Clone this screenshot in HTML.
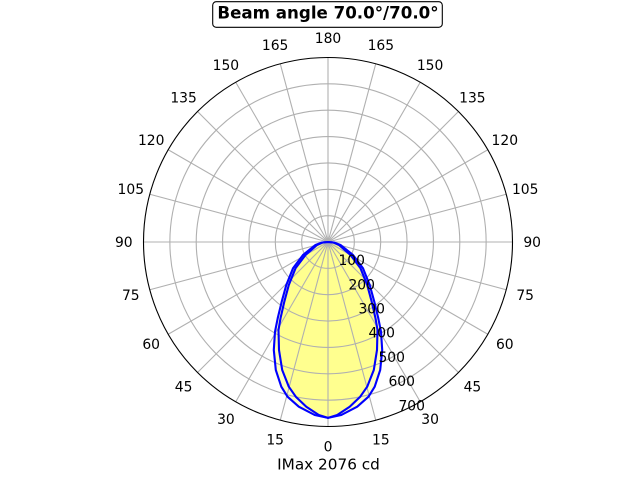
<!DOCTYPE html>
<html>
<head>
<meta charset="utf-8">
<style>
  html, body { margin: 0; padding: 0; background: #ffffff; }
  svg { display: block; }
  text { font-family: "DejaVu Sans", "Liberation Sans", sans-serif; fill: #000; }
</style>
</head>
<body>
<svg width="640" height="480" viewBox="0 0 640 480" xmlns="http://www.w3.org/2000/svg">
  <rect x="0" y="0" width="640" height="480" fill="#ffffff"/>

  <!-- fills -->
  <polygon fill="#ffff00" fill-opacity="0.25" points="328,242 322,242.5 315.5,245 303,255 293,268.3 286.3,285 281.7,301.7 277.7,318.3 275,331.7 273.8,350 275.8,370 281.3,386.7 287.5,396.7 298.8,406.7 314.7,415 328,417.9 341.3,415 357.2,406.7 368.5,396.7 374.7,386.7 380.2,370 382.2,350 381,331.7 378.3,318.3 374.3,301.7 369.7,285 363,268.3 353,255 340.5,245 334,242.5"/>
  <polygon fill="#ffff00" fill-opacity="0.25" points="328,242 322.5,242.5 317,245 305.5,255 295.5,268.3 288.8,285 284.3,301.7 280.5,318.3 278.5,330 279,350 282.2,370 288.8,386.7 295.8,396.7 306.3,406.7 318.8,415 328,417.9 337.2,415 349.7,406.7 360.2,396.7 367.2,386.7 373.8,370 377,350 377.5,330 375.5,318.3 371.7,301.7 367.2,285 360.5,268.3 350.5,255 339,245 333.5,242.5"/>

  <!-- grid -->
  <g transform="translate(328,242)" stroke="#b0b0b0" stroke-width="1.1" fill="none">
    <circle r="26.36"/>
    <circle r="52.71"/>
    <circle r="79.07"/>
    <circle r="105.43"/>
    <circle r="131.79"/>
    <circle r="158.14"/>
    <line x1="0" y1="0" x2="0" y2="184.5" transform="rotate(0)"/>
    <line x1="0" y1="0" x2="0" y2="184.5" transform="rotate(15)"/>
    <line x1="0" y1="0" x2="0" y2="184.5" transform="rotate(30)"/>
    <line x1="0" y1="0" x2="0" y2="184.5" transform="rotate(45)"/>
    <line x1="0" y1="0" x2="0" y2="184.5" transform="rotate(60)"/>
    <line x1="0" y1="0" x2="0" y2="184.5" transform="rotate(75)"/>
    <line x1="0" y1="0" x2="0" y2="184.5" transform="rotate(90)"/>
    <line x1="0" y1="0" x2="0" y2="184.5" transform="rotate(105)"/>
    <line x1="0" y1="0" x2="0" y2="184.5" transform="rotate(120)"/>
    <line x1="0" y1="0" x2="0" y2="184.5" transform="rotate(135)"/>
    <line x1="0" y1="0" x2="0" y2="184.5" transform="rotate(150)"/>
    <line x1="0" y1="0" x2="0" y2="184.5" transform="rotate(165)"/>
    <line x1="0" y1="0" x2="0" y2="184.5" transform="rotate(180)"/>
    <line x1="0" y1="0" x2="0" y2="184.5" transform="rotate(195)"/>
    <line x1="0" y1="0" x2="0" y2="184.5" transform="rotate(210)"/>
    <line x1="0" y1="0" x2="0" y2="184.5" transform="rotate(225)"/>
    <line x1="0" y1="0" x2="0" y2="184.5" transform="rotate(240)"/>
    <line x1="0" y1="0" x2="0" y2="184.5" transform="rotate(255)"/>
    <line x1="0" y1="0" x2="0" y2="184.5" transform="rotate(270)"/>
    <line x1="0" y1="0" x2="0" y2="184.5" transform="rotate(285)"/>
    <line x1="0" y1="0" x2="0" y2="184.5" transform="rotate(300)"/>
    <line x1="0" y1="0" x2="0" y2="184.5" transform="rotate(315)"/>
    <line x1="0" y1="0" x2="0" y2="184.5" transform="rotate(330)"/>
    <line x1="0" y1="0" x2="0" y2="184.5" transform="rotate(345)"/>
  </g>

  <!-- spine -->
  <circle cx="328" cy="242" r="184.5" fill="none" stroke="#000000" stroke-width="1.1"/>

  <!-- curves -->
  <polygon fill="none" stroke="#0000ff" stroke-width="2.1" stroke-linejoin="round" points="328,242 322,242.5 315.5,245 303,255 293,268.3 286.3,285 281.7,301.7 277.7,318.3 275,331.7 273.8,350 275.8,370 281.3,386.7 287.5,396.7 298.8,406.7 314.7,415 328,417.9 341.3,415 357.2,406.7 368.5,396.7 374.7,386.7 380.2,370 382.2,350 381,331.7 378.3,318.3 374.3,301.7 369.7,285 363,268.3 353,255 340.5,245 334,242.5"/>
  <polygon fill="none" stroke="#0000ff" stroke-width="2.1" stroke-linejoin="round" points="328,242 322.5,242.5 317,245 305.5,255 295.5,268.3 288.8,285 284.3,301.7 280.5,318.3 278.5,330 279,350 282.2,370 288.8,386.7 295.8,396.7 306.3,406.7 318.8,415 328,417.9 337.2,415 349.7,406.7 360.2,396.7 367.2,386.7 373.8,370 377,350 377.5,330 375.5,318.3 371.7,301.7 367.2,285 360.5,268.3 350.5,255 339,245 333.5,242.5"/>

  <!-- theta labels -->
  <g font-size="13.89" text-anchor="middle">
    <text x="328" y="451.3">0</text>
    <text x="380.85" y="444.3">15</text>
    <text x="275.15" y="444.3">15</text>
    <text x="430.1" y="423.9">30</text>
    <text x="225.9" y="423.9">30</text>
    <text x="472.4" y="391.4">45</text>
    <text x="183.6" y="391.4">45</text>
    <text x="504.8" y="349.2">60</text>
    <text x="151.2" y="349.2">60</text>
    <text x="525.2" y="299.9">75</text>
    <text x="130.8" y="299.9">75</text>
    <text x="532.2" y="247.1">90</text>
    <text x="123.8" y="247.1">90</text>
    <text x="525.2" y="194.2">105</text>
    <text x="130.8" y="194.2">105</text>
    <text x="504.8" y="145">120</text>
    <text x="151.2" y="145">120</text>
    <text x="472.4" y="102.7">135</text>
    <text x="183.6" y="102.7">135</text>
    <text x="430.1" y="70.2">150</text>
    <text x="225.9" y="70.2">150</text>
    <text x="380.85" y="49.8">165</text>
    <text x="275.15" y="49.8">165</text>
    <text x="328" y="42.9">180</text>
  </g>

  <!-- radial labels -->
  <g font-size="13.89" text-anchor="middle">
    <text x="351.7" y="265.1">100</text>
    <text x="361.7" y="289.3">200</text>
    <text x="371.7" y="313.5">300</text>
    <text x="381.7" y="337.7">400</text>
    <text x="391.7" y="361.9">500</text>
    <text x="401.7" y="386.1">600</text>
    <text x="411.7" y="410.3">700</text>
  </g>

  <!-- title -->
  <rect x="212.7" y="1.7" width="229.6" height="25.6" rx="3.5" ry="3.5" fill="#ffffff" stroke="#000000" stroke-width="1.1"/>
  <text x="328" y="18.5" font-size="16.67" font-weight="bold" text-anchor="middle">Beam angle 70.0°/70.0°</text>

  <!-- xlabel -->
  <text x="328.5" y="469.7" font-size="15.28" text-anchor="middle">IMax 2076 cd</text>
</svg>
</body>
</html>
